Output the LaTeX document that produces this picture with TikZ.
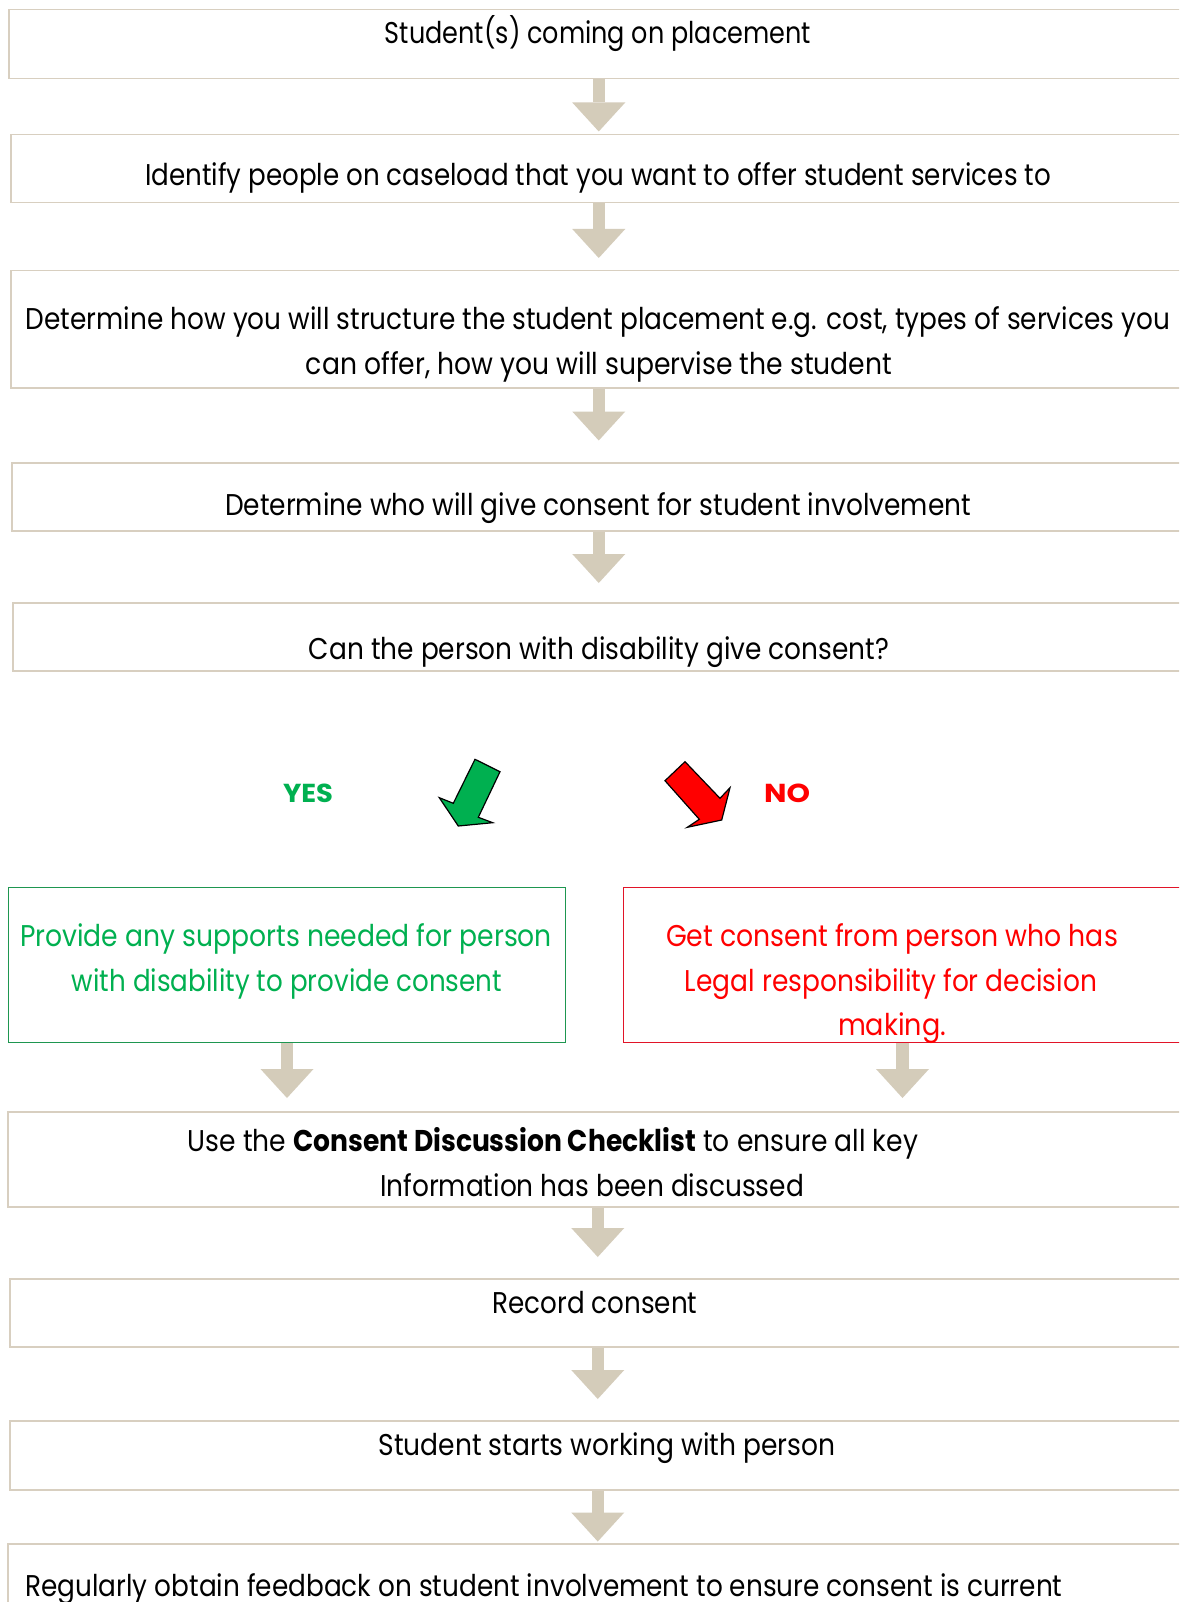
\documentclass[tikz,border=0pt]{standalone}
\usepackage{fontspec}
\usepackage{graphicx}
\setmainfont{Poppins}[FakeStretch=0.8]
\usetikzlibrary{arrows.meta}

\definecolor{boxline}{RGB}{216,207,192}
\definecolor{flow}{RGB}{212,204,186}
\definecolor{okgreen}{RGB}{0,176,80}
\definecolor{okgreenline}{RGB}{30,150,80}
\definecolor{nored}{RGB}{255,0,0}
\definecolor{noredline}{RGB}{225,20,40}

% stretch a line of text to a given width, keeping its height
\newcommand{\fitto}[2]{\resizebox{#1}{\height}{#2}}

\tikzset{
  stepbox/.style={draw=boxline, line width=1.5pt, fill=white, inner sep=0pt, anchor=north west},
  yesbox/.style={draw=okgreenline, line width=1pt, inner sep=0pt, anchor=north west},
  nobox/.style={draw=noredline, line width=1pt, inner sep=0pt, anchor=north west},
  txt/.style={inner sep=0pt, anchor=base, font=\fontsize{30}{36}\selectfont},
  flowarrow/.style={draw=flow, line width=12.5pt,
    -{Triangle[length=29pt, width=53pt, line width=0pt]}},
  bigarrow/.style={draw=black, line width=1.2pt, line join=miter},
}

\begin{document}
\begin{tikzpicture}[x=1pt, y=-1pt]
\useasboundingbox (0,0) rectangle (1179,1602);
\fill[white] (0,0) rectangle (1179,1602);
\clip (0,0) rectangle (1179,1602);

% step boxes
\node[stepbox, minimum width=1180pt, minimum height=69pt]  (b1) at (8,9) {};
\node[stepbox, minimum width=1176pt, minimum height=68pt]  (b2) at (10,134) {};
\node[stepbox, minimum width=1176pt, minimum height=117pt] (b3) at (10,270) {};
\node[stepbox, minimum width=1174pt, minimum height=68pt]  (b4) at (11,462) {};
\node[stepbox, minimum width=1172pt, minimum height=68pt]  (b5) at (12,602) {};
\node[yesbox,  minimum width=557pt,  minimum height=155pt] (gy) at (8,887) {};
\node[nobox,   minimum width=558pt,  minimum height=155pt] (rn) at (623,887) {};
\node[stepbox, minimum width=1180pt, minimum height=95pt]  (b6) at (7,1111) {};
\node[stepbox, minimum width=1176pt, minimum height=68pt]  (b7) at (9,1278) {};
\node[stepbox, minimum width=1176pt, minimum height=69pt]  (b8) at (9,1420) {};
\node[stepbox, minimum width=1180pt, minimum height=80pt]  (b9) at (7,1543) {};

% texts
\node[txt] (t1)  at (598,44)  {\fitto{426pt}{Student(s) coming on placement}};
\node[txt] (t2)  at (598,186) {\fitto{906pt}{Identify people on caseload that you want to offer student services to}};
\node[txt] (t3a) at (598,329) {\fitto{1144pt}{Determine how you will structure the student placement e.g. cost, types of services you}};
\node[txt] (t3b) at (599,374) {\fitto{586pt}{can offer, how you will supervise the student}};
\node[txt] (t4)  at (598,515) {\fitto{746pt}{Determine who will give consent for student involvement}};
\node[txt] (t5)  at (599,659) {\fitto{580pt}{Can the person with disability give consent?}};

\node[txt, text=okgreen] (yes) at (308,802) {\fitto{50pt}{\fontsize{26}{30}\selectfont\bfseries YES}};
\node[txt, text=nored]   (no)  at (787,802) {\fitto{46pt}{\fontsize{26}{30}\selectfont\bfseries NO}};

\node[txt, text=okgreen] (g1) at (286,946) {\fitto{532pt}{Provide any supports needed for person}};
\node[txt, text=okgreen] (g2) at (287,991) {\fitto{430pt}{with disability to provide consent}};

\node[txt, text=nored] (r1) at (892,946)  {\fitto{452pt}{Get consent from person who has}};
\node[txt, text=nored] (r2) at (891,991)  {\fitto{412pt}{Legal responsibility for decision}};
\node[txt, text=nored] (r3) at (892,1035) {\fitto{108pt}{making.}};

\node[txt] (t6a) at (553,1151) {\fitto{730pt}{Use the \textbf{Consent Discussion Checklist} to ensure all key}};
\node[txt] (t6b) at (592,1196) {\fitto{424pt}{Information has been discussed}};
\node[txt] (t7)  at (595,1313) {\fitto{205pt}{Record consent}};
\node[txt] (t8)  at (607,1455) {\fitto{457pt}{Student starts working with person}};
\node[txt] (t9)  at (544,1596) {\fitto{1037pt}{Regularly obtain feedback on student involvement to ensure consent is current}};

% flow arrows between steps (each about 53pt long)
\draw[flowarrow, shorten >=2.5pt]  (b1.south) -- (b2.north);
\draw[flowarrow, shorten >=12pt]   (b2.south) -- (b3.north);
\draw[flowarrow, shorten >=21.5pt] (b3.south) -- (b4.north);
\draw[flowarrow, shorten >=19pt]   (b4.south) -- (b5.north);
\draw[flowarrow, shorten >=13pt]   (gy.south) -- (gy.south |- b6.north);
\draw[flowarrow, shorten >=13pt]   (rn.south) -- (rn.south |- b6.north);
\draw[flowarrow, shorten >=21pt]   (b6.south) -- (b7.north);
\draw[flowarrow, shorten >=21pt]   (b7.south) -- (b8.north);
\draw[flowarrow, shorten >=1.5pt]  (b8.south) -- (b9.north);

% yes / no block arrows
\filldraw[bigarrow, fill=okgreen]
  (475,759.3) -- (500,771.7) -- (478.3,817.3) -- (492.7,822.7)
  -- (458.3,826) -- (439.3,797.7) -- (453.3,803.3) -- cycle;
\filldraw[bigarrow, fill=nored]
  (665,780.7) -- (685,761.7) -- (720,798.3) -- (730,787.7)
  -- (721.7,820) -- (687.3,827.3) -- (699.3,819.3) -- cycle;
\end{tikzpicture}
\end{document}
